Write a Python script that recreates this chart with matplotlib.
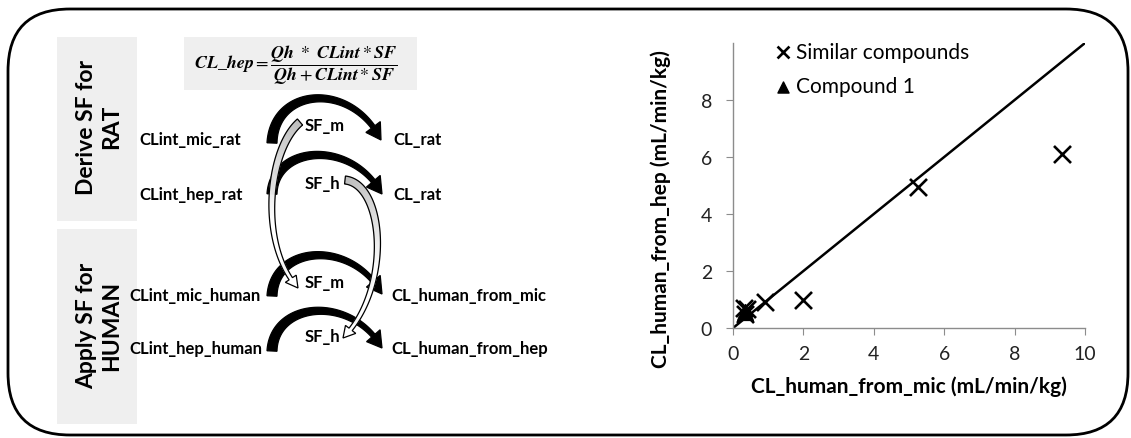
import numpy as np
import matplotlib
matplotlib.use("Agg")
import matplotlib.pyplot as plt
from matplotlib.patches import FancyBboxPatch, Rectangle, Polygon
from matplotlib.colors import to_rgb

plt.rcParams["font.family"] = ["Lato", "DejaVu Sans"]

# --- data -------------------------------------------------------------------
similar_x = [0.30, 0.40, 0.35, 0.90, 2.00, 5.25, 9.35]
similar_y = [0.70, 0.65, 0.50, 0.90, 1.00, 4.95, 6.10]
compound1_x = [0.35]
compound1_y = [0.55]
unity_x = [0, 10]
unity_y = [0, 10]
x_ticks = [0, 2, 4, 6, 8, 10]
y_ticks = [0, 2, 4, 6, 8]

W, H = 1131, 439
fig = plt.figure(figsize=(W / 100, H / 100), dpi=100)
fig.patch.set_facecolor("white")

# full-figure canvas in pixel units for the scheme on the left
cv = fig.add_axes([0, 0, 1, 1])
cv.set_xlim(0, W)
cv.set_ylim(H, 0)
cv.axis("off")


def bezier(p0, p1, p2, p3, n=200):
    t = np.linspace(0, 1, n)[:, None]
    return ((1 - t) ** 3) * p0 + 3 * ((1 - t) ** 2) * t * p1 + 3 * (1 - t) * t ** 2 * p2 + t ** 3 * p3


def block_arrow(ax, pts, w0, w1, head_w, head_len, fc0="black", fc1=None,
                ec=None, lw=0.9, z=3):
    """Tapered curved block arrow along a cubic bezier, optional gradient fill."""
    p = [np.array(q, float) for q in pts]
    c = bezier(*p)
    s = np.concatenate([[0], np.cumsum(np.hypot(*np.diff(c, axis=0).T))])
    keep = s <= s[-1] - head_len
    cb, sb = c[keep], s[keep]
    tan = np.gradient(cb, axis=0)
    tan /= np.linalg.norm(tan, axis=1)[:, None]
    nrm = np.column_stack([-tan[:, 1], tan[:, 0]])
    w = w0 + (w1 - w0) * sb / sb[-1]
    left = cb + nrm * w[:, None] / 2
    right = cb - nrm * w[:, None] / 2
    h1 = cb[-1] + nrm[-1] * head_w / 2
    h2 = cb[-1] - nrm[-1] * head_w / 2
    outline = np.vstack([left, h1, c[-1], h2, right[::-1]])

    if fc1 is None:
        ax.add_patch(Polygon(outline, closed=True, fc=fc0, ec=ec or fc0, lw=lw, zorder=z))
        return
    a, b = np.array(to_rgb(fc0)), np.array(to_rgb(fc1))
    for i in range(len(cb) - 1):
        f = min(1.0, 1.6 * sb[i] / sb[-1])
        col = a + (b - a) * f
        quad = [left[i], left[i + 1], right[i + 1], right[i]]
        ax.add_patch(Polygon(quad, closed=True, fc=col, ec=col, lw=0.4, zorder=z))
    ax.add_patch(Polygon([h1, c[-1], h2], closed=True, fc=fc1, ec=fc1, lw=0.4, zorder=z))
    ax.add_patch(Polygon(outline, closed=True, fill=False, ec=ec or "black", lw=lw, zorder=z + 0.1))


# outer rounded frame
cv.add_patch(FancyBboxPatch((8, 10), 1120, 426, boxstyle="round,pad=0,rounding_size=62",
                            fill=False, ec="black", lw=2.0, zorder=1))

# grey panels
GREY = "#efefef"
cv.add_patch(Rectangle((57, 38), 80, 184, fc=GREY, ec="none", zorder=1))
cv.add_patch(Rectangle((57, 230), 80, 195, fc=GREY, ec="none", zorder=1))
cv.add_patch(Rectangle((184, 38), 233, 53, fc=GREY, ec="none", zorder=1))

cv.text(99, 127, "Derive SF for\nRAT", rotation=90, ha="center", va="center",
        fontsize=16.5, fontweight="bold", linespacing=1.2, zorder=2)
cv.text(99, 326, "Apply SF for\nHUMAN", rotation=90, ha="center", va="center",
        fontsize=16.5, fontweight="bold", linespacing=1.2, zorder=2)

cv.text(296, 65,
        r"$\mathbfit{CL\_hep} = \dfrac{\mathbfit{Qh}\ *\ \mathbfit{CLint}*\mathbfit{SF}}"
        r"{\mathbfit{Qh}+\mathbfit{CLint}*\mathbfit{SF}}$",
        ha="center", va="center", fontsize=13, math_fontfamily="stix", zorder=2)

lab = dict(fontsize=12, fontweight="bold", va="center", ha="left", zorder=5)
cv.text(139, 140, "CLint_mic_rat", **lab)
cv.text(139, 195, "CLint_hep_rat", **lab)
cv.text(129, 296, "CLint_mic_human", **lab)
cv.text(129, 349, "CLint_hep_human", **lab)
cv.text(393, 140, "CL_rat", **lab)
cv.text(393, 195, "CL_rat", **lab)
cv.text(391, 296, "CL_human_from_mic", **lab)
cv.text(391, 349, "CL_human_from_hep", **lab)
cv.text(305, 126, "SF_m", **lab)
cv.text(305, 184, "SF_h", **lab)
cv.text(305, 283, "SF_m", **lab)
cv.text(305, 337, "SF_h", **lab)

# black arcs
block_arrow(cv, [(272, 144), (274, 88), (352, 82), (381, 141)], 10, 4.5, 18, 15)
block_arrow(cv, [(272, 195), (274, 146), (352, 140), (382, 195)], 10, 4.5, 18, 15)
block_arrow(cv, [(272, 297), (274, 246), (352, 240), (382, 295)], 10, 4.5, 18, 15)
block_arrow(cv, [(272, 352), (274, 302), (352, 296), (382, 349)], 10, 4.5, 18, 15)

# grey -> white transfer arrows
block_arrow(cv, [(300, 123), (268, 150), (258, 245), (298, 289)], 8, 4, 13, 11,
            fc0="#bdbdbd", fc1="white", ec="black", lw=0.9, z=6)
block_arrow(cv, [(345, 181), (385, 185), (392, 290), (343, 339)], 8, 4, 13, 11,
            fc0="#bdbdbd", fc1="white", ec="black", lw=0.9, z=6)

# --- scatter panel ----------------------------------------------------------
x0, x1, y0, y1 = 733, 1085, 44, 329
ax = fig.add_axes([x0 / W, 1 - y1 / H, (x1 - x0) / W, (y1 - y0) / H])
ax.set_facecolor("none")
ax.plot(unity_x, unity_y, color="black", lw=1.8, zorder=2)
ax.scatter(similar_x, similar_y, marker="x", s=150, linewidths=1.9, color="black",
           label="Similar compounds", zorder=3, clip_on=False)
ax.scatter(compound1_x, compound1_y, marker="^", s=130, color="black",
           label="Compound 1", zorder=4, clip_on=False)
ax.set_xlim(0, 10)
ax.set_ylim(0, 10)
ax.set_xticks(x_ticks)
ax.set_yticks(y_ticks)
for side in ("top", "right"):
    ax.spines[side].set_visible(False)
for side in ("left", "bottom"):
    ax.spines[side].set_color("#8c8c8c")
    ax.spines[side].set_linewidth(1.0)
ax.tick_params(axis="both", direction="out", length=5, color="#8c8c8c",
               labelsize=14, labelcolor="#222222")
ax.tick_params(axis="x", pad=7)
ax.tick_params(axis="y", pad=10)
ax.set_xlabel("CL_human_from_mic (mL/min/kg)", fontsize=15, fontweight="bold")
ax.set_ylabel("CL_human_from_hep (mL/min/kg)", fontsize=15, fontweight="bold")
ax.xaxis.set_label_coords(0.5, -0.165)
ax.yaxis.set_label_coords(-0.175, 0.42)
ax.legend(loc="upper left", bbox_to_anchor=(0.12, 1.005), frameon=False,
          fontsize=15, markerscale=0.7, handlelength=0.7, handletextpad=0.3,
          labelspacing=0.7, borderaxespad=0, borderpad=0, scatterpoints=1)

fig.savefig("out.png", dpi=100, facecolor="white")
